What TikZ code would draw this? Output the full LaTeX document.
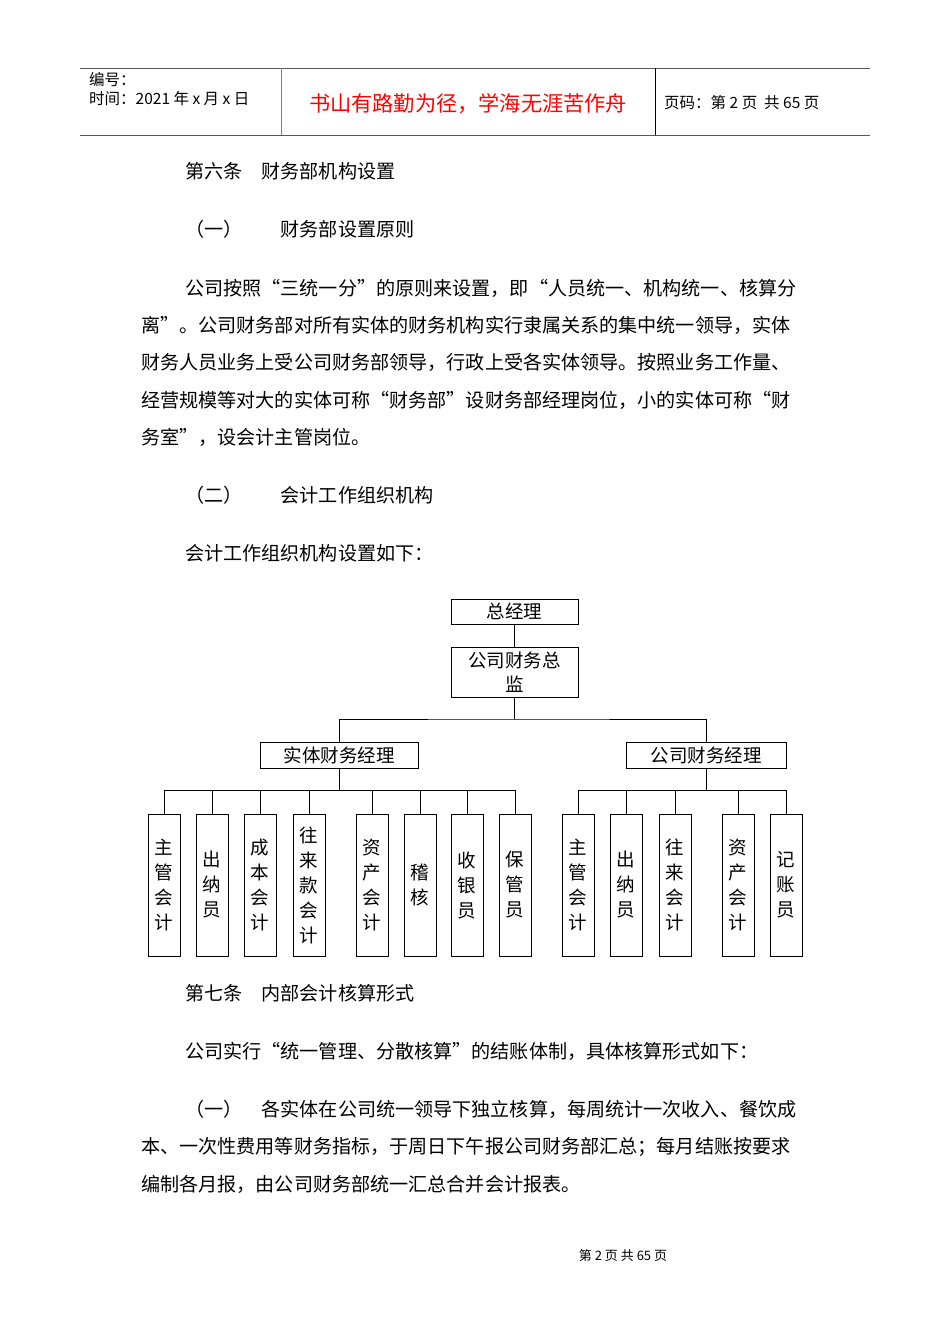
\documentclass[tikz,border=0pt]{standalone}
\usepackage{fontspec}
\setmainfont{Noto Sans CJK SC}
\begin{document}
\begin{tikzpicture}[x=1pt,y=-1pt,
  box/.style={draw,line width=0.8pt,inner sep=0pt,font=\fontsize{18.5}{24}\selectfont,align=center},
  leaf/.style={box,minimum width=32pt,minimum height=142pt,text width=20pt,font=\fontsize{18.5}{25}\selectfont},
  txt/.style={anchor=west,inner sep=0pt,font=\fontsize{19.1}{22}\selectfont},
  ln/.style={line width=0.8pt}]
\useasboundingbox (0,0) rectangle (950,1344);
% header
\draw[line width=1pt,gray!70!black] (80,68) -- (870,68);
\draw[line width=1pt,gray!70!black] (80,135) -- (870,135);
\draw[line width=0.8pt,gray] (281,68) -- (281,135);
\draw[line width=0.8pt] (655,68) -- (655,135);
\node[txt,font=\fontsize{15.5}{18}\selectfont] (h1) at (89,80) {编号：};
\node[txt,font=\fontsize{15.5}{18}\selectfont] (h2) at (89,99) {时间：2021 年 x 月 x 日};
\node[inner sep=0pt,text=red,font=\fontsize{21.2}{24}\selectfont] (h3) at (468,104) {书山有路勤为径，学海无涯苦作舟};
\node[txt,font=\fontsize{15.5}{18}\selectfont] (h4) at (664,103) {页码：第 2 页\ \ 共 65 页};
% body
\node[txt] (t1) at (185,171) {第六条\quad 财务部机构设置};
\node[txt] (t2) at (185,229) {（一）\qquad 财务部设置原则};
\node[txt] (p1) at (185,288) {公司按照“三统一分”的原则来设置，即“人员统一、机构统一、核算分};
\node[txt] (p2) at (141,325) {离”。公司财务部对所有实体的财务机构实行隶属关系的集中统一领导，实体};
\node[txt] (p3) at (141,362) {财务人员业务上受公司财务部领导，行政上受各实体领导。按照业务工作量、};
\node[txt] (p4) at (141,400) {经营规模等对大的实体可称“财务部”设财务部经理岗位，小的实体可称“财};
\node[txt] (p5) at (141,437) {务室”，设会计主管岗位。};
\node[txt] (t3) at (185,495) {（二）\qquad 会计工作组织机构};
\node[txt] (t4) at (185,553) {会计工作组织机构设置如下：};
% chart
\node[box,minimum width=127pt,minimum height=25pt] (gm) at (514.5,611.5) {总经理};
\node[box,minimum width=127pt,minimum height=50pt] (cfo) at (514.5,672) {公司财务总\\监};
\node[box,minimum width=158pt,minimum height=26pt] (m1) at (339,755) {实体财务经理};
\node[box,minimum width=160pt,minimum height=26pt] (m2) at (706,755) {公司财务经理};
\draw[ln] (gm) -- (cfo);
\coordinate (j0) at (514.5,719);
\draw[ln] (cfo) -- (j0);
\draw[ln] (m1.north) |- (j0) -| (m2.north);
\foreach \n/\x/\t in {a1/164/主\\管\\会\\计, a2/212/出\\纳\\员, a3/260/成\\本\\会\\计, a4/309/往\\来\\款\\会\\计, a5/372/资\\产\\会\\计, a6/420/稽\\核, a7/467/收\\银\\员, a8/515/保\\管\\员}{
  \node[leaf] (\n) at (\x,885) {\t};
  \draw[ln] (\n.north) -- (\x,790) -- (339,790);
}
\draw[ln] (m1) -- (339,790);
\foreach \n/\x/\t in {b1/578/主\\管\\会\\计, b2/626/出\\纳\\员, b3/675/往\\来\\会\\计, b4/738/资\\产\\会\\计, b5/786/记\\账\\员}{
  \node[leaf] (\n) at (\x,885) {\t};
  \draw[ln] (\n.north) -- (\x,790) -- (706,790);
}
\draw[ln] (m2) -- (706,790);
\node[txt] (t5) at (185,993) {第七条\quad 内部会计核算形式};
\node[txt] (t6) at (185,1051) {公司实行“统一管理、分散核算”的结账体制，具体核算形式如下：};
\node[txt] (q1) at (185,1109) {（一）\quad 各实体在公司统一领导下独立核算，每周统计一次收入、餐饮成};
\node[txt] (q2) at (141,1147) {本、一次性费用等财务指标，于周日下午报公司财务部汇总；每月结账按要求};
\node[txt] (q3) at (141,1184) {编制各月报，由公司财务部统一汇总合并会计报表。};
\node[inner sep=0pt,font=\fontsize{13}{14}\selectfont] (ft) at (623,1256) {第 2 页 共 65 页};
\end{tikzpicture}
\end{document}
